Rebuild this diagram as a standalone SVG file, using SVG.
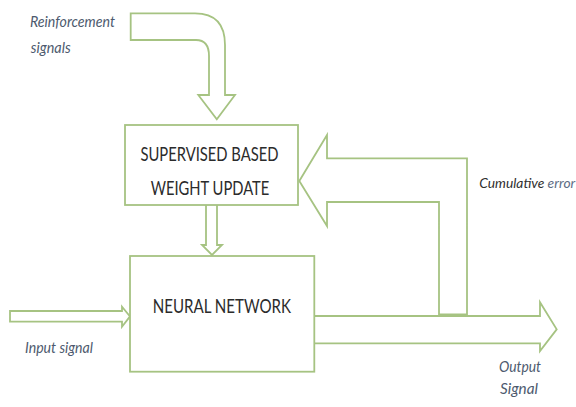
<svg xmlns="http://www.w3.org/2000/svg" width="576" height="407" viewBox="0 0 576 407">
<style>
.box{fill:#ffffff;stroke:#a6c382;stroke-width:1.8}
.arr{fill:#ffffff;stroke:#a6c382;stroke-width:1.8;stroke-linejoin:miter}
.bt{font-family:Lato,"Liberation Sans",sans-serif;fill:#2b2b2b;text-anchor:start}
.lab{font-family:Lato,"Liberation Sans",sans-serif;font-style:italic;fill:#4d5a6e}
</style>
<rect width="576" height="407" fill="#ffffff"/>
<g id="connectors">
<path id="reinforcement-arrow" class="arr" d="M130.7,13.3 L195,13.3 Q225,13.3 225,45 L225,95 L235,95 L216.8,119.3 L198.3,95 L209,95 L209,56 Q209,40 196,40 L130.7,40 Z"/>
<path id="update-arrow" class="arr" d="M206,205 L206,245 L202,245 L212,255 L222,245 L217,245 L217,205"/>
<path id="feedback-arrow" class="arr" d="M299.3,181 L327,135 L327,158.3 L467,158.3 L467,314.5 L439,314.5 L439,202 L327,202 L327,226 Z"/>
<path id="output-arrow" class="arr" d="M314.5,316 L540,316 L540,302.3 L556.7,329.4 L540,351 L540,343.3 L314.5,343.3"/>
<path id="input-arrow" class="arr" d="M10,311 L122,311 L122,306.7 L130,316.4 L122,326.7 L122,321.7 L10,321.7 Z"/>
</g>
<g id="supervised-node">
<rect class="box" x="125" y="125" width="173" height="80"/>
<text class="bt" x="140.5" y="160.5" font-size="20" textLength="138" lengthAdjust="spacingAndGlyphs">SUPERVISED BASED</text>
<text class="bt" x="150.7" y="195" font-size="20" textLength="118.6" lengthAdjust="spacingAndGlyphs">WEIGHT UPDATE</text>
</g>
<g id="neural-network-node">
<rect class="box" x="130" y="256" width="184.3" height="115.7"/>
<text class="bt" x="152.7" y="313.3" font-size="18.5" textLength="138.3" lengthAdjust="spacingAndGlyphs">NEURAL NETWORK</text>
</g>
<g id="labels">
<text class="lab" x="30" y="26.5" font-size="15" textLength="85" lengthAdjust="spacingAndGlyphs">Reinforcement</text>
<text class="lab" x="30.7" y="52.5" font-size="15" textLength="40" lengthAdjust="spacingAndGlyphs">signals</text>
<text class="lab" x="25" y="353" font-size="15" textLength="68" lengthAdjust="spacingAndGlyphs">Input signal</text>
<text class="lab" x="479.3" y="188" font-size="14" textLength="96" lengthAdjust="spacingAndGlyphs"><tspan fill="#2f2f2f">Cumulative</tspan> <tspan fill="#5d6c84">error</tspan></text>
<text class="lab" x="499" y="372" font-size="15" textLength="42" lengthAdjust="spacingAndGlyphs" fill="#333333">Output</text>
<text class="lab" x="500" y="393.5" font-size="15" textLength="38" lengthAdjust="spacingAndGlyphs" fill="#333333">Signal</text>
</g>
</svg>
